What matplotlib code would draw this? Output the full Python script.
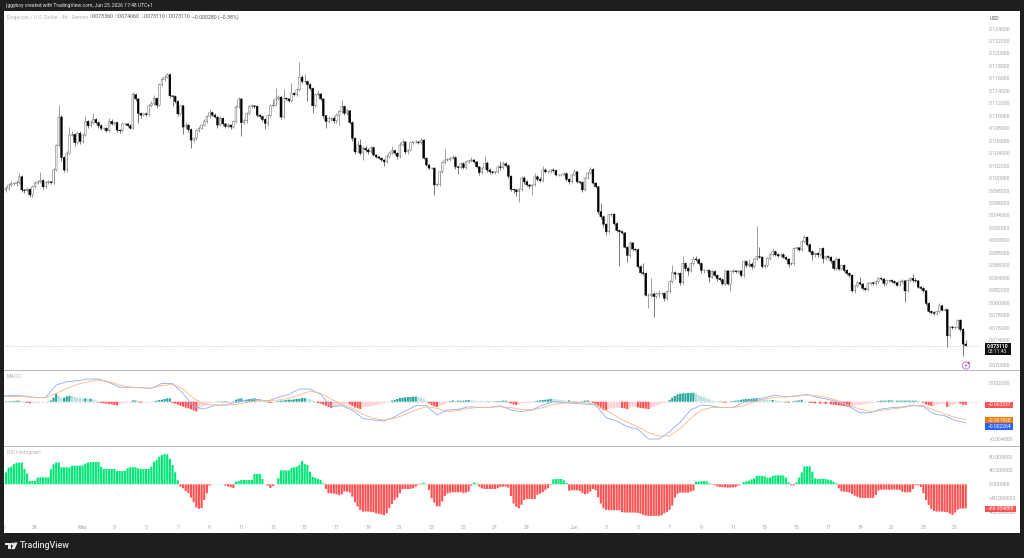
import numpy as np
import matplotlib
matplotlib.use("Agg")
import matplotlib.pyplot as plt
from matplotlib.patches import Rectangle, Circle, Polygon
from matplotlib.transforms import Affine2D, Bbox

# DOGE/USD 4h candles, prices in thousandths of a dollar
closes = [
    98.4, 98.9, 99.1, 99.1, 99.3, 100.2, 98.1, 98.0, 98.2, 97.3,
    98.6, 99.2, 99.4, 99.6, 98.6, 99.3, 99.4, 99.3, 101.3, 105.2,
    109.8, 103.3, 101.3, 104.0, 106.9, 107.0, 105.7, 107.2, 105.9, 106.9,
    109.1, 108.4, 108.9, 109.4, 108.9, 108.4, 108.0, 108.0, 107.6, 109.1,
    108.7, 108.9, 107.7, 107.6, 108.7, 108.7, 108.4, 108.0, 113.4, 112.7,
    110.4, 110.1, 110.3, 110.2, 111.6, 111.9, 112.8, 111.7, 115.0, 115.8,
    116.2, 116.6, 113.2, 113.1, 112.3, 110.3, 111.6, 108.2, 108.5, 107.8,
    106.1, 106.4, 107.6, 108.0, 108.5, 109.1, 109.9, 110.5, 110.1, 109.8,
    108.5, 109.6, 108.7, 108.3, 108.5, 108.2, 109.1, 111.4, 112.7, 108.9,
    109.2, 110.4, 111.5, 111.6, 111.5, 110.1, 109.9, 109.4, 108.8, 110.0,
    111.6, 111.7, 112.7, 113.0, 109.8, 112.8, 112.7, 112.4, 113.6, 113.4,
    114.2, 116.2, 115.5, 115.5, 115.0, 114.4, 111.6, 113.4, 113.5, 112.7,
    110.0, 109.1, 109.6, 109.6, 109.2, 110.1,
    110.7, 111.5, 110.4, 110.8, 108.9, 106.4, 104.2, 105.3, 104.0, 104.8,
    104.5, 104.2, 104.9, 103.7, 103.4, 103.2, 102.9, 102.6, 103.5, 104.0,
    104.4, 104.0, 103.5, 105.3, 105.8, 104.2, 104.5, 105.7, 105.8, 105.8,
    105.7, 106.1, 103.2, 102.1, 101.6, 101.6, 98.9, 99.0, 101.0, 102.5,
    102.9, 103.0, 103.2, 103.3, 101.8, 101.7, 102.3, 101.7, 102.6, 102.8,
    102.9, 102.6, 101.8, 100.9, 101.6, 102.4, 101.3, 101.0, 100.9, 101.0,
    101.8, 101.7, 102.3, 102.0, 100.3, 98.2, 98.1, 97.8, 98.2, 100.0,
    99.4, 98.9, 98.7, 98.9, 100.2, 99.8, 99.6, 101.3, 101.0, 101.0,
    101.3, 101.2, 100.5, 100.5, 100.5, 100.7, 99.8, 99.4, 100.5, 101.0,
    99.4, 99.3, 98.1, 100.0, 100.8, 101.4, 99.2, 98.6, 94.6, 93.8,
    92.6, 91.4, 94.1, 94.2, 92.7, 91.6, 91.4, 91.2, 88.9, 87.6,
    89.6, 88.6, 88.5, 85.8, 84.8, 84.7, 81.2, 81.2, 81.4, 81.0,
    81.4, 81.5, 81.5, 80.7, 81.8, 83.4, 84.8, 84.6,
    84.7, 83.2, 86.3, 85.5, 85.1, 86.3, 87.0, 86.9, 86.3, 85.2,
    85.2, 85.2, 84.1, 85.0, 84.4, 83.9, 83.7, 83.0, 85.1, 83.0,
    85.0, 85.1, 85.0, 85.1, 84.4, 86.6, 86.0, 86.2, 85.8, 87.0,
    87.4, 87.3, 85.8, 86.0, 87.1, 87.7, 88.2, 87.7, 87.5, 87.7,
    87.3, 87.0, 86.2, 86.3, 88.7, 88.8, 88.5, 89.8, 90.5, 89.3,
    88.2, 87.7, 87.9, 87.7, 88.7, 87.1, 87.4, 87.3, 86.7, 85.5,
    87.0, 85.4, 86.0, 85.2, 84.7, 84.4, 81.9, 82.7, 83.2, 83.0,
    82.3, 82.1, 83.1, 83.2, 83.1, 83.4, 83.9, 83.8, 83.1, 83.6,
    83.6, 83.4, 83.2, 82.8, 83.4, 83.5, 81.9, 83.6, 83.9, 83.6,
    83.5, 82.5, 82.3, 81.9, 79.9, 78.6, 78.4, 78.3, 78.6, 79.5,
    78.8, 78.9, 74.7, 76.1, 76.0, 76.0, 77.2, 75.7, 73.36, 73.11,
]
first_open = 98.1

# Wick lengths beyond each candle body, same unit as the prices
upper_wicks = [
    .3, .3, .5, .3, .4, .6, .3, .2, .3, .2,
    .3, .4, .3, 1.3, .2, .3, .3, .2, .3, .2,
    2.0, .3, .2, .3, 1.3, .5, .2, .3, .3, .3,
    .9, .2, .4, 1.0, .2, .3, .2, .2, .2, .5,
    .3, .3, .2, .2, .3, .2, .2, .2, .4, .3,
    .2, .2, .2, .3, .3, .4, .6, .2, .3, .5,
    .3, .3, .2, .2, .2, .2, .2, .2, .5, .2,
    .2, .2, .2, .3, .2, .3, .3, .6, .3, .3,
    .2, .3, .2, .2, .3, .2, .2, .3, .3, .1,
    .3, .2, .3, .3, .2, .2, .2, .2, .2, .3,
    .3, 1.0, 1.8, .3, .2, 1.5, .2, .2, 1.7, .2,
    .3, 2.4, .3, 1.2, .2, .2, .2, .3, .4, .2,
    .2, .2, .4, .2, .3, .4,
    .3, 1.1, .3, .3, .2, .2, .2, .6, .9, .4,
    .3, .4, .3, .2, .2, .2, .2, .2, .3, .4,
    .7, .2, .2, .5, .5, .2, .2, .3, .2, .3,
    .2, .3, .2, .2, .2, .2, .2, .2, .2, .3,
    1.8, .2, .2, .4, .3, .2, .3, .2, .2, .2,
    .5, .2, .2, .2, .2, 1.2, .3, .3, .2, .2,
    .3, .9, .4, .2, .2, .2, .2, .2, .2, .3,
    .3, .3, .2, .2, .6, .3, .3, .6, .3, .2,
    .2, .3, .2, .2, .2, .2, .2, .2, .2, .4,
    .2, .2, .2, .2, .2, .4, .2, .2, .2, 1.4,
    .2, .2, .2, .2, .2, .2, .2, .2, .2, .2,
    .3, .2, .2, .2, .2, 1.5, .2, .3, 2.5, .3,
    .3, .5, .2, .2, .2, .2, 1.2, .3,
    .3, .2, 1.2, .3, .2, .3, .5, .5, .2, .2,
    .2, .2, .2, .2, .3, .2, .2, .2, .2, .2,
    .2, .3, .2, .2, .2, .3, .2, .8, .3, .2,
    4.9, 1.6, .2, .2, .2, .3, .6, .2, .2, .2,
    .2, .2, .2, .2, .2, .3, .2, .2, .4, .2,
    .3, .2, .2, .2, .1, .2, .2, .2, .2, .2,
    .3, .2, .2, .2, .2, .2, .2, .2, .3, .9,
    .2, .2, .2, .2, .2, .3, .2, .2, .2, .2,
    .2, .2, .2, .2, .2, .3, .2, .2, .3, .7,
    .3, .2, .2, .2, .2, .2, .3, .2, .2, .4,
    .2, .2, .1, .2, .2, .2, .2, .2, .2, .7,
]
lower_wicks = [
    .4, .3, .2, .2, .3, .2, .3, .4, .2, .4,
    .3, .2, .2, .2, .4, .2, .2, .3, .3, .2,
    .1, .5, .4, .3, .2, .2, .5, .3, .4, .3,
    .2, .3, .2, .2, .3, .3, .3, .3, .2, .2,
    .2, .2, .3, .4, .2, .2, .2, .2, .1, .3,
    1.5, .4, .2, .3, .2, .2, .2, .4, .2, .2,
    .2, .1, .3, 1.5, .3, .4, .2, 1.2, .3, .4,
    1.2, .3, .3, .2, .2, .2, .2, .2, .2, .2,
    .4, .2, .3, .3, .3, .3, .2, .2, .2, 2.2,
    .3, .3, .2, .2, .2, .3, .2, .3, .9, .5,
    .2, .2, .2, .2, .3, .2, .2, .2, .2, .3,
    .2, .2, .3, .3, 2.7, .3, 1.2, .2, .2, .3,
    .4, 1.0, .2, .4, .3, .3,
    1.6, .2, .3, .3, .2, .4, .4, .2, .3, 1.1,
    .3, .3, .2, .2, .2, .2, .2, .6, .2, .2,
    .2, .3, .4, .2, .2, .4, .3, .2, .2, .2,
    .2, .2, .2, .2, .2, .2, 1.6, .2, .2, .2,
    .2, .2, .2, .2, .3, 1.0, .2, .3, .2, .2,
    .2, .2, .2, .4, .2, .2, .4, .3, .3, .3,
    .2, .4, .2, .2, .3, .3, .5, .6, 1.6, .2,
    .3, .2, .3, 1.4, .2, .2, .2, .2, .2, .2,
    .2, .2, .2, .2, .2, .2, .2, .3, .2, .2,
    .2, .3, .3, .2, .2, .2, .2, .2, .3, .4,
    .5, .6, .2, .2, .2, .2, 5.5, .2, .2, 1.0,
    .2, .3, .2, .2, .2, .2, .2, 2.1, .3, 3.3,
    .2, .5, .2, .5, .2, .2, .2, .8,
    .2, .3, .2, .4, .6, .2, .2, .2, .3, .4,
    .5, .3, .8, .2, .3, .4, .2, .2, .2, .2,
    1.2, .2, .2, .2, .3, .2, .2, .2, .4, .2,
    .2, .2, .3, .2, .2, .2, .2, .2, .2, .2,
    .2, .2, .4, .2, .2, .2, .2, .2, .2, .2,
    .3, .9, .3, .4, .2, .8, .2, .2, .3, .2,
    .2, .2, .2, .3, .2, .2, .2, .3, .2, .2,
    .2, .2, .2, .2, .2, .2, .2, .2, .5, .2,
    .2, .2, .2, .2, .2, .2, 1.8, .2, .2, .2,
    .2, .2, .2, .2, .2, .2, .2, .2, .2, .2,
    .2, .2, 1.8, .2, .2, .2, .2, .2, 1.9, 0,
]

# MACD and signal lines, one reading every fourth candle, in thousandths
macd_line = [
    .61, .68, .61, .46, .46, 1.79, 2.14, 2.25, 2.43, 2.43, 2.07, 1.54, 1.57, 1.50, 1.43, 1.96,
    1.96, .89, -.54, -.79, -.36, -.36, -.07, .18, .25, .07, .46, .79, 1.36, 1.36, .79, -.54,
    -.43, -.89, -1.79, -1.96, -2.07, -1.61, -1.0, -.43, -.43, -1.43, -.89, -.82, -.54, -.61, -.61, -.43,
    -.89, -1.07, -.89, -.36, 0, -.07, -.18, -.25, -.36, -1.71, -2.07, -2.68, -2.93, -4.0, -4.0, -3.21,
    -2.21, -.89, -.36, -.46, -.64, -.61, -.07, .25, .43, .71, .50, .61, .79, .46, .25, -.07,
    -.54, -1.18, -1.18, -.79, -.64, -.57, -.36, -.54, -1.32, -1.5, -2.0, -2.264,
]
signal_line = [
    .57, .54, .54, .43, .43, .89, 1.43, 1.86, 2.14, 2.32, 2.14, 1.79, 1.54, 1.50, 1.46, 1.71,
    1.86, 1.36, .36, -.29, -.36, -.36, -.29, -.07, .11, .11, .18, .36, .71, 1.14, .89, .29,
    -.29, -.71, -1.36, -1.79, -1.96, -1.79, -1.36, -.89, -.54, -.71, -1.07, -.96, -.71, -.61, -.61, -.54,
    -.64, -.82, -.89, -.64, -.29, -.14, -.11, -.11, -.29, -.89, -1.61, -2.21, -2.68, -3.32, -3.68, -3.68,
    -2.86, -1.79, -.89, -.61, -.61, -.64, -.43, 0, .29, .46, .54, .61, .71, .61, .43, .07,
    -.43, -.79, -1.07, -.93, -.79, -.64, -.43, -.43, -.89, -1.32, -1.68, -1.928,
]
macd_hist = [
    .04, .04, .07, .07, .11, .11, .04, -.04, -.11, -.18,
    -.14, -.07, -.04, -.04, -.04, 0, .04, .14, .43, .89,
    .61, .43, .43, .57, .64, .61, .50, .43, .39, .36,
    .36, .32, .32, .25, .14, -.07, -.14, -.18, -.21, -.25,
    -.29, -.36, -.39, -.25, -.18, -.11, -.07, -.04, .14, .14,
    -.04, -.11, -.11, -.07, -.04, 0, .04, .11, .18, .21,
    .29, .36, .36, -.11, -.21, -.32, -.43, -.54, -.64, -.71,
    -.82, -.93, -1.04, -.79, -.57, -.43, -.29, -.18, -.07, -.04,
    .04, .04, -.07, .07, -.07, -.04, .04, .21, .32, .36,
    .21, .21, .29, .32, .36, .29, .25, .18, .11, -.07,
    -.14, -.11, -.04, .07, .11, .14, .18, .21, .21, .25,
    .29, .32, .39, .39, .32, .25, .11, -.04, -.14, -.21,
    -.32, -.43, -.57, -.68, -.57, -.50, -.43,
    -.36, -.29, -.21, -.32, -.46, -.61, -.71, -.79, -.64, -.57,
    -.54, -.46, -.43, -.36, -.29, -.21, -.14, -.07, 0, .11,
    .18, .29, .39, .43, .46, .50, .50, .54, .54, .50,
    .46, .29, .11, -.18, -.36, -.50, -.57, -.50, -.36, -.29,
    -.11, .07, .14, .11, .11, .11, .11, .14, .18, .14,
    .11, .07, .04, .04, 0, .04, .04, 0, -.04, .07,
    .07, .11, .11, -.07, -.18, -.29, -.36, -.29, -.18, -.14,
    -.11, -.11, -.07, .04, .11, .14, .18, .21, .25, .32,
    .29, .25, .21, .18, .14, .11, .14, -.04, .07, -.07,
    -.07, .07, .11, .14, -.04, -.14, -.29, -.50, -.71, -.89,
    -.93, -.79, -.71, -.68, -.64, -.64, -.68, -.71, -.79, -.64,
    -.57, -.54, -.61, -.68, -.71, -.75, -.79, -.64, -.54, -.43,
    -.32, -.21, -.11, -.04, .18, .43, .61, .79,
    .86, .89, .89, .93, .93, .96, .86, .71, .61, .50,
    .36, .25, .14, .07, .04, .04, -.07, -.11, -.07, .04,
    .07, .11, .14, .21, .25, .29, .29, .32, .36, .36,
    .32, .29, .25, .21, .18, .18, .14, .11, .07, .04,
    -.07, -.11, -.04, .07, .11, .14, .21, .07, 0, -.11,
    -.14, -.18, -.18, -.21, -.21, -.25, -.25, -.29, -.32, -.36,
    -.39, -.43, -.46, -.50, -.54, -.54, -.43, -.39, -.36, -.32,
    -.25, -.18, -.14, -.07, 0, .07, .11, .11, .11, .14,
    .14, .11, .11, .11, .11, .11, .11, .11, .11, .11,
    .07, .04, -.11, -.29, -.39, -.46, -.46, -.36, -.29, -.25,
    -.21, -.57, -.50, -.36, -.25, -.14, -.21, -.32, -.337,
]

rsi_hist = [
    34.7, 48.2, 51.0, 58.8, 61.7, 62.7, 62.7, 44.3, 31.8, 9.6,
    9.6, 9.6, 19.3, 20.2, 20.2, 20.2, 20.2, 43.4, 57.8, 63.6,
    62.7, 49.2, 49.2, 49.2, 49.2, 54.0, 54.0, 54.0, 54.0, 54.0,
    59.8, 62.7, 64.6, 64.6, 64.6, 64.6, 51.1, 44.3, 44.3, 44.3,
    44.3, 44.3, 38.6, 38.6, 38.6, 38.6, 46.3, 49.2, 49.2, 49.2,
    46.3, 44.3, 44.3, 44.3, 44.3, 51.1, 65.6, 70.4, 80.0, 84.8,
    87.7, 86.8, 73.3, 55.9, 34.7, 11.6, -6.7, -11.6, -19.3, -26.0,
    -38.6, -52.0, -67.5, -71.3, -69.4, -45.3, -26.0, -3.9, -1.0, .4,
    .4, .4, .4, -3.9, -6.7, -8.7, -10.6, 7.7, 9.6, 12.5,
    12.5, 12.5, 12.5, 12.5, 29.9, 29.9, 29.9, 15.4, .4, -3.9,
    -10.6, -4.8, .4, 17.4, 40.5, 40.5, 40.5, 40.5, 47.2, 49.2,
    51.1, 55.9, 67.5, 58.8, 55.9, 36.6, 22.2, 19.3, 15.4, 12.5,
    2.9, -13.5, -26.0, -26.0, -27.0, -28.9, -30.8,
    -28.9, -21.2, -21.2, -24.1, -35.7, -52.0, -64.6, -74.2, -79.0, -79.0,
    -79.0, -80.0, -81.0, -83.9, -85.8, -87.7, -89.7, -83.9, -69.4, -56.9,
    -45.3, -38.6, -26.0, -14.5, -13.5, -13.5, -13.5, -11.6, -6.7, -1.9,
    1.9, 4.8, -1.0, -16.4, -40.5, -53.0, -63.6, -63.6, -50.0, -33.7,
    -27.0, -24.1, -23.1, -23.1, -23.1, -23.1, -25.1, -24.1, -21.2, -3.9,
    4.8, 2.9, -6.7, -11.6, -13.5, -13.5, -13.5, -13.5, -13.5, -11.6,
    -7.7, -6.7, -6.7, -9.6, -33.7, -55.9, -65.6, -69.4, -59.8, -45.3,
    -42.4, -42.4, -42.4, -42.4, -30.8, -27.0, -23.1, -16.4, -11.6, -1.9,
    14.5, 15.4, 15.4, 15.4, 11.6, 3.9, -18.3, -17.4, -17.4, -17.4,
    -19.3, -25.1, -28.9, -27.0, -21.2, -13.5, -17.4, -37.6, -55.9, -69.4,
    -74.2, -75.2, -75.2, -75.2, -75.2, -75.2, -81.0, -81.9, -81.9, -81.9,
    -81.9, -81.9, -82.9, -84.8, -88.7, -90.6, -91.6, -91.6, -91.6, -91.6,
    -91.6, -89.7, -83.9, -80.0, -74.2, -61.7, -38.6, -28.0,
    -24.1, -24.1, -24.1, -24.1, -21.2, -18.3, 7.7, 7.7, 8.7, 9.6,
    8.7, 2.9, -1.0, -2.9, -5.8, -7.7, -8.7, -8.7, -9.6, -9.6,
    -8.7, -7.7, -3.9, .4, 6.7, 8.7, 10.6, 14.5, 17.4, 24.1,
    24.1, 24.1, 23.1, 19.3, 19.3, 24.1, 26.0, 26.0, 26.0, 25.1,
    19.3, 5.8, -2.9, -2.9, 5.8, 19.3, 34.7, 52.0, 52.0, 52.0,
    36.6, 17.4, 15.4, 15.4, 15.4, 15.4, 13.5, 11.6, 7.7, 2.9,
    -11.6, -20.2, -21.2, -22.2, -24.1, -28.0, -32.8, -35.7, -38.6, -39.5,
    -39.5, -39.5, -39.5, -39.5, -30.8, -18.3, -15.4, -15.4, -15.4, -15.4,
    -15.4, -15.4, -15.4, -16.4, -21.2, -23.1, -23.1, -23.1, -13.5, -2.9,
    -2.9, -7.7, -26.0, -45.3, -59.8, -71.3, -77.1, -79.0, -79.0, -79.0,
    -80.0, -81.0, -84.8, -88.7, -81.9, -73.3, -70.4, -70.4, -69.954889,
]

# The 0.072 price level sits behind the last-price tag, so it carries no label
price_ticks = [70] + [74 + 2 * k for k in range(26)]
macd_ticks = [2, -4]
macd_tick_labels = ["0.002000", "\u22120.004000"]
rsi_ticks = [80, 40, 0, -40, -80]
rsi_tick_labels = ["80.000000", "40.000000", "0.000000", "\u221240.000000", "\u221280.000000"]

# Candle positions of the date labels, six candles per day
date_positions = [12, 30, 42, 54, 66, 78, 90, 102, 114, 126, 138, 150, 162, 174, 186, 198,
                  216, 228, 240, 252, 264, 276, 288, 300, 312, 324, 336, 348, 360]
date_labels = ["28", "May", "3", "5", "7", "9", "11", "13", "15", "17", "19", "21", "23", "25", "27", "29",
               "Jun", "3", "5", "7", "9", "11", "13", "15", "17", "19", "21", "23", "25"]

plt.rcParams["font.family"] = ["Roboto", "DejaVu Sans"]
W, H = 1024, 558
DARK = "#1e1e1e"
AXIS_GREY = "#a4a4a4"
fig = plt.figure(figsize=(W / 100, H / 100), dpi=100, facecolor=DARK)
# Pixel coordinates with the origin at the top left, for the page furniture
px = Affine2D().scale(1, -1).translate(0, H)


def pane(top, bottom, left=4, right=980):
    ax = fig.add_axes([left / W, 1 - bottom / H, (right - left) / W, (bottom - top) / H])
    ax.set_facecolor("none")
    for s in ax.spines.values():
        s.set_visible(False)
    ax.set_xlim((4 - 3.3) / 2.644, (980 - 3.3) / 2.644)
    ax.yaxis.tick_right()
    ax.tick_params(axis="y", length=0, pad=6.2, labelsize=3.7, labelcolor=AXIS_GREY)
    ax.tick_params(axis="x", length=0, pad=2.0, labelsize=3.7, labelcolor=AXIS_GREY)
    ax.set_xticks([])
    return ax


fig.add_artist(Rectangle((4, 11), 1016, 522, transform=px, fc="white", ec="none", zorder=-5))

idx = np.arange(1, 365)
c = np.array(closes) * 1e-3
o = np.concatenate([[first_open * 1e-3], c[:-1]])
hi = np.maximum(o, c) + np.array(upper_wicks) * 1e-3
lo = np.minimum(o, c) - np.array(lower_wicks) * 1e-3

# Price pane
ax_price = pane(11, 371)
ax_price.set_ylim(0.07 + (365 - 371) / 6231, 0.07 + (365 - 11) / 6231)
ax_price.set_yticks([t * 1e-3 for t in price_ticks], [f"{t * 1e-3:.6f}" for t in price_ticks])
rising = c >= o
ax_price.vlines(idx[rising], lo[rising], hi[rising], color="#777777", lw=0.5, zorder=2)
ax_price.vlines(idx[~rising], lo[~rising], hi[~rising], color="#444444", lw=0.5, zorder=2)
bars = ax_price.bar(idx, np.abs(c - o), bottom=np.minimum(o, c), width=0.68,
                    color=["white" if r else "black" for r in rising],
                    edgecolor=["#666666" if r else "black" for r in rising], linewidth=0.35, zorder=3)
for b in bars:
    b.set_snap(False)
ax_price.axhline(c[-1], color="#9a9a9a", lw=0.5, ls=(0, (1, 2.5)), zorder=1)

# MACD pane
ax_macd = pane(372, 446)
ax_macd.set_ylim(-(446 - 401.7) / 9.33 * 1e-3, (401.7 - 372) / 9.33 * 1e-3)
ax_macd.set_yticks([t * 1e-3 for t in macd_ticks], macd_tick_labels)
ax_macd.axhline(0, color="#cfcfcf", lw=0.5, ls=(0, (3, 3)), zorder=1)
h = np.array(macd_hist) * 1e-3
prev = np.concatenate([[0.0], h[:-1]])
macd_colors = []
for cur, before in zip(h, prev):
    if cur >= 0:
        macd_colors.append("#26a69a" if cur >= before else "#b2dfdb")
    else:
        macd_colors.append("#ffcdd2" if cur >= before else "#ff5252")
for b in ax_macd.bar(idx, h, width=0.8, color=macd_colors, linewidth=0, zorder=2):
    b.set_snap(False)
line_idx = np.arange(0, 368, 4)
ax_macd.plot(line_idx, np.array(macd_line) * 1e-3, color="#8fabf7", lw=0.6, zorder=3)
ax_macd.plot(line_idx, np.array(signal_line) * 1e-3, color="#f7b88a", lw=0.6, zorder=3)

# RSI histogram pane
ax_rsi = pane(447, 522)
ax_rsi.set_ylim(-(522 - 484.3) / 0.345, (484.3 - 447) / 0.345)
ax_rsi.set_yticks(rsi_ticks, rsi_tick_labels)
r = np.array(rsi_hist)
for b in ax_rsi.bar(idx, r, width=0.8, color=["#00e676" if v >= 0 else "#ff5252" for v in r],
                    linewidth=0, zorder=2):
    b.set_snap(False)
ax_rsi.set_xticks(date_positions, date_labels)

# Partly hidden date label at the left edge
first_label = fig.text(3.3, 527.7, "26", transform=px, ha="center", va="center",
                       fontsize=3.7, color=AXIS_GREY)
first_label.set_clip_box(Bbox([[4, 0], [1020, H]]))
first_label.set_clip_on(True)


def ptext(x, y, s, color, size=3.7, ha="left", weight="normal", z=12):
    return fig.text(x, y, s, transform=px, color=color, fontsize=size, ha=ha, va="center",
                    fontweight=weight, zorder=z)


# Top bar and legend rows
ptext(5, 5.7, "jiggyboy created with TradingView.com, Jun 25, 2026 17:48 UTC+1", "#e6e6e6", 3.65)
ptext(7, 17, "Dogecoin / U.S. Dollar \u00b7 4h \u00b7 Gemini", "#b5b5b5", 3.75)
for letter, lx, value, vx in [("O", 89.3, "0.073360", 92), ("H", 115, "0.074060", 118),
                              ("L", 141.7, "0.073110", 144), ("C", 166, "0.073110", 169)]:
    ptext(lx, 17, letter, "#b5b5b5", 3.75)
    ptext(vx, 17, value, "#555555", 3.75)
ptext(191.7, 17, "\u22120.000280 (\u22120.38%)", "#555555", 3.75)
ptext(990, 18, "USD", "#555555", 3.7)
ptext(7, 376.8, "MACD", "#b5b5b5", 3.75)
ptext(7, 452.7, "RSI Histogram", "#b5b5b5", 3.75)

# Pane separators
for sep_y in (370.8, 446.4):
    fig.add_artist(Rectangle((4, sep_y - 0.5), 1016, 1.0, transform=px, fc="#b9b9b9", ec="none", zorder=6))

# Last-value tags on the right scale
fig.add_artist(Rectangle((985, 342.7), 25.5, 12.3, transform=px, fc="#111111", ec="none", zorder=10))
ptext(997.7, 346, "0.073110", "white", 3.6, ha="center", weight="bold")
ptext(997.7, 351.8, "03:11:43", "#e0e0e0", 3.6, ha="center")
for top, bottom, right, col, label in [(401.7, 408.2, 1013, "#ff5252", "\u22120.000337"),
                                       (416.7, 423.3, 1013, "#f57c00", "\u22120.001928"),
                                       (423.3, 430.0, 1013, "#2962ff", "\u22120.002264"),
                                       (505.7, 512.3, 1016, "#ff5252", "\u221269.954889")]:
    fig.add_artist(Rectangle((985, top), right - 985, bottom - top, transform=px, fc=col, ec="none", zorder=10))
    ptext((985 + right) / 2, (top + bottom) / 2, label, "white", 3.6, ha="center")

# Session icon under the last candle
fig.add_artist(Circle((966, 365.5), 3.6, transform=px, fc="white", ec="#c27be0", lw=0.7, zorder=11))
fig.add_artist(Polygon([(966.8, 362.8), (964.6, 366), (966, 366), (965.2, 368.2), (967.4, 365), (966, 365)],
                       transform=px, fc="#b45bd8", ec="none", zorder=12))
fig.add_artist(Circle((968.7, 362.8), 1.1, transform=px, fc="#f23645", ec="none", zorder=12))

# Footer mark and wordmark
fig.add_artist(Polygon([(5, 542.5), (11, 542.5), (11, 549.2), (8, 549.2), (8, 545.2), (5, 545.2)],
                       transform=px, fc="#e8e8e8", ec="none", zorder=12))
fig.add_artist(Circle((12.5, 544), 1.4, transform=px, fc="#e8e8e8", ec="none", zorder=12))
fig.add_artist(Polygon([(14.4, 542.5), (17.6, 542.5), (14.6, 549.2), (11.2, 549.2)],
                       transform=px, fc="#e8e8e8", ec="none", zorder=12))
ptext(20, 545.5, "TradingView", "#dcdcdc", 6.4, weight="medium")

fig.savefig("out.png", dpi=100, facecolor=DARK)
